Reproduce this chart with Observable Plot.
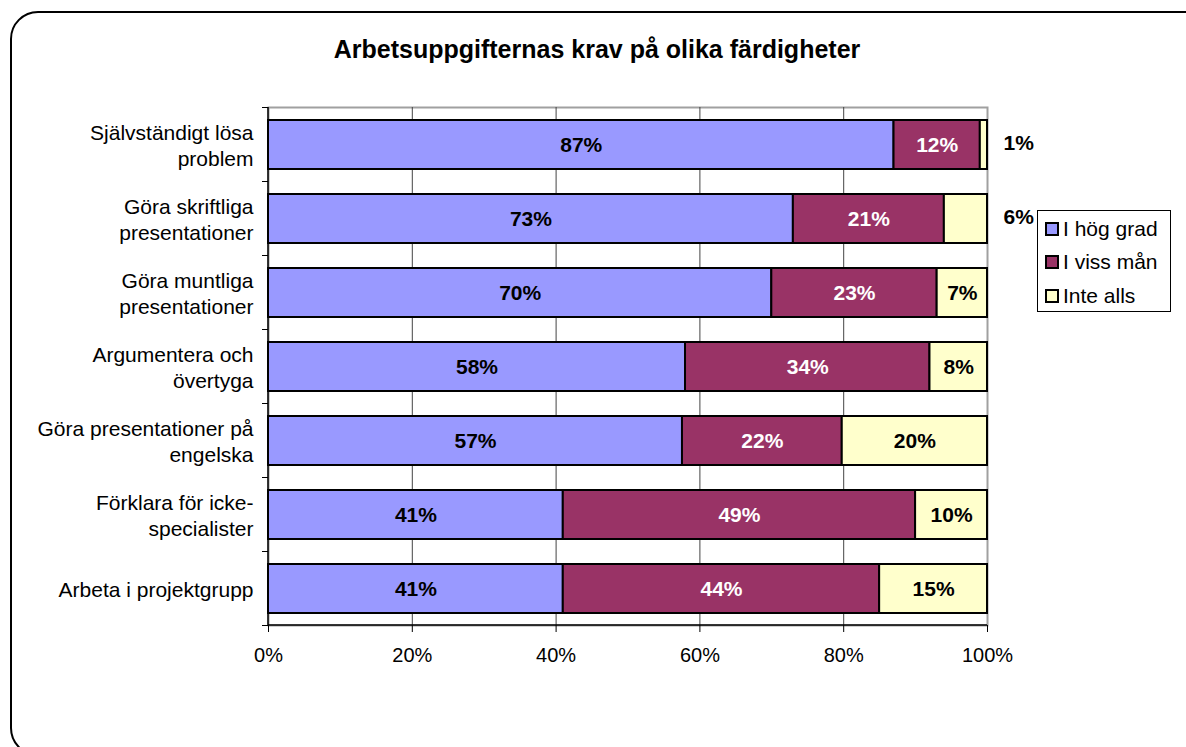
<!DOCTYPE html>
<html>
<head>
<meta charset="utf-8">
<script src="https://cdn.jsdelivr.net/npm/d3@7"></script>
<script src="https://cdn.jsdelivr.net/npm/@observablehq/plot@0.6"></script>
<style>
  body { margin: 0; background: #fff; }
  #wrap { position: relative; width: 1186px; height: 747px; overflow: hidden; font-family: "Liberation Sans", Arial, sans-serif; }
  #frame { position: absolute; left: 10px; top: 11px; width: 1215px; height: 745px; border: 2px solid #000; border-radius: 28px; box-sizing: border-box; }
  #title { position: absolute; left: 0; top: 35px; width: 1194px; text-align: center; font-size: 25px; font-weight: bold; line-height: 28px; color: #000; }
  #legend { position: absolute; left: 1037px; top: 210px; width: 134px; height: 102px; border: 1px solid #000; box-sizing: border-box; background: #fff; padding-top: 1px; }
  .li { display: flex; align-items: center; height: 33.5px; font-size: 21px; color: #000; }
  .sw { width: 10px; height: 10px; border: 2px solid #000; margin: 0 4px 0 7px; }
  #chart { position: absolute; left: 0; top: 0; }
</style>
</head>
<body>
<div id="wrap">
  <div id="chart"></div>
  <div id="frame"></div>
  <div id="title"></div>
  <div id="legend"></div>
</div>
<script>
const title = "Arbetsuppgifternas krav på olika färdigheter";
const categories = [
  "Självständigt lösa\nproblem",
  "Göra skriftliga\npresentationer",
  "Göra muntliga\npresentationer",
  "Argumentera och\növertyga",
  "Göra presentationer på\nengelska",
  "Förklara för icke-\nspecialister",
  "Arbeta i projektgrupp"
];
const seriesNames = ["I hög grad", "I viss mån", "Inte alls"];
const hogGrad = [87, 73, 70, 58, 57, 41, 41];
const vissMan = [12, 21, 23, 34, 22, 49, 44];
const inteAlls = [1, 6, 7, 8, 20, 10, 15];
const seriesColors = ["#9999FF", "#993366", "#FFFFCC"];
const xTicks = [0, 0.2, 0.4, 0.6, 0.8, 1];
const gridTicks = [0.2, 0.4, 0.6, 0.8];

const seriesValues = [hogGrad, vissMan, inteAlls];
const data = [];
seriesNames.forEach((s, si) => {
  categories.forEach((c, ci) => data.push({cat: c, series: s, value: seriesValues[si][ci]}));
});
const isOutside = d => d.series === "Inte alls" && d.value < 7;
const outside = data.filter(isOutside);
const fmt = d => d.value + "%";

document.getElementById("title").textContent = title;
const legend = document.getElementById("legend");
seriesNames.forEach((s, i) => {
  const row = document.createElement("div");
  row.className = "li";
  const sw = document.createElement("span");
  sw.className = "sw";
  sw.style.background = seriesColors[i];
  row.appendChild(sw);
  row.appendChild(document.createTextNode(s));
  legend.appendChild(row);
});

function axesLines(index, scales, values, dimensions) {
  const y = scales.y;
  const info = (scales.scales && scales.scales.y) || {};
  const step = info.step != null ? info.step : y.step();
  const bw = info.bandwidth != null ? info.bandwidth : y.bandwidth();
  const {width, height, marginLeft, marginRight, marginTop, marginBottom} = dimensions;
  const g = d3.create("svg:g").attr("stroke", "#000").attr("fill", "none");
  const gap = (step - bw) / 2;
  const bounds = categories.map(c => y(c) - gap);
  bounds.push(y(categories[categories.length - 1]) + bw + gap);
  for (const b of bounds) {
    g.append("line").attr("x1", marginLeft - 6).attr("x2", marginLeft).attr("y1", b).attr("y2", b).attr("stroke-width", 1);
  }
  g.append("line").attr("x1", marginLeft).attr("x2", marginLeft).attr("y1", marginTop).attr("y2", height - marginBottom).attr("stroke-width", 1.5);
  g.append("line").attr("x1", marginLeft).attr("x2", width - marginRight).attr("y1", height - marginBottom).attr("y2", height - marginBottom).attr("stroke-width", 1.5);
  return g.node();
}

const stackOpts = {x: "value", y: "cat", z: "series", offset: "normalize"};

const chart = Plot.plot({
  width: 1186,
  height: 747,
  marginLeft: 268,
  marginRight: 199,
  marginTop: 107,
  marginBottom: 122,
  style: {fontFamily: "'Liberation Sans', Arial, sans-serif", background: "transparent"},
  x: {domain: [0, 1], axis: null, label: null},
  y: {domain: categories, paddingInner: 0.34, paddingOuter: 0.17, axis: null, label: null},
  color: {domain: seriesNames, range: seriesColors},
  marks: [
    Plot.frame({stroke: "#a0a0a0", strokeWidth: 2}),
    Plot.ruleX(gridTicks, {stroke: "#444", strokeWidth: 1}),
    Plot.barX(data, Plot.stackX({...stackOpts, fill: "series", stroke: "#000", strokeWidth: 2})),
    axesLines,
    Plot.axisX({ticks: xTicks, tickFormat: d3.format(".0%"), tickSize: 7, tickPadding: 15, fontSize: 20, stroke: "#000", label: null}),
    Plot.text(data, Plot.stackX({...stackOpts, text: d => (d.series !== "I viss mån" && !isOutside(d)) ? fmt(d) : "", fill: "#000", fontSize: 21, fontWeight: "bold"})),
    Plot.text(data, Plot.stackX({...stackOpts, text: d => d.series === "I viss mån" ? fmt(d) : "", fill: "#fff", fontSize: 21, fontWeight: "bold"})),
    Plot.text(outside, {y: "cat", text: fmt, frameAnchor: "right", textAnchor: "start", dx: 16, dy: -2, fill: "#000", fontSize: 21, fontWeight: "bold"}),
    Plot.text(categories, {y: d => d, text: d => d, frameAnchor: "left", textAnchor: "end", dx: -15, fontSize: 21, lineHeight: 1.24, fill: "#000", ariaLabel: "ylabels"})
  ]
});
document.getElementById("chart").appendChild(chart);

// Excel-style: each label block right-aligned, lines centred within the block
const yl = chart.querySelector('g[aria-label="ylabels"]');
if (yl) {
  yl.querySelectorAll("text").forEach(t => {
    const w = t.getBBox().width;
    t.setAttribute("text-anchor", "middle");
    const tr = t.getAttribute("transform") || "";
    t.setAttribute("transform", tr + ` translate(${-w / 2},0)`);
  });
}
</script>
</body>
</html>
